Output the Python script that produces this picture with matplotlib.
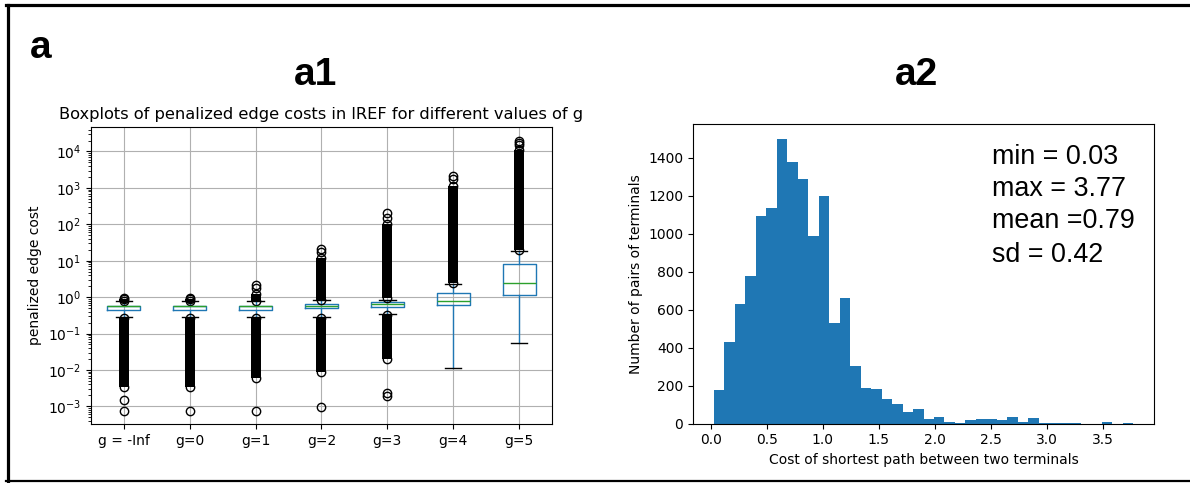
import matplotlib
matplotlib.use("Agg")
import matplotlib.pyplot as plt
from matplotlib.lines import Line2D
from matplotlib.ticker import LogLocator, NullFormatter
import numpy as np

# ---- a1: boxplot summary per g value ----
groups = ["g = -Inf", "g=0", "g=1", "g=2", "g=3", "g=4", "g=5"]
q1 = [0.45, 0.45, 0.45, 0.49, 0.53, 0.62, 1.16]
med = [0.56, 0.56, 0.56, 0.57, 0.63, 0.80, 2.46]
q3 = [0.58, 0.58, 0.58, 0.63, 0.73, 1.31, 8.1]
whis_lo = [0.285, 0.285, 0.285, 0.285, 0.35, 0.0116, 0.054]
whis_hi = [0.76, 0.76, 0.76, 0.81, 0.86, 2.31, 18.7]
# runs of outliers so dense they print as a solid column (lo, hi)
dense_low = [(0.0035, 0.27), (0.0035, 0.27), (0.0062, 0.27), (0.0090, 0.27),
             (0.0195, 0.33), None, None]
dense_high = [(0.80, 0.90), (0.80, 0.90), (0.80, 1.25), (0.86, 12.0),
              (0.92, 100.0), (2.4, 1100.0), (19.5, 11000.0)]
# single outlier circles that stand apart
lone_fliers = [[0.93, 0.00145, 0.00077], [0.93, 0.00077], [1.75, 2.2, 0.00077],
               [17.0, 21.0, 0.00096], [150.0, 210.0, 0.0019, 0.0024],
               [1700.0, 2100.0], [15000.0, 17500.0, 20000.0]]

# ---- a2: histogram of shortest path costs ----
hist_min, hist_max, n_bins = 0.03, 3.77, 40
counts = [175, 432, 629, 780, 1094, 1135, 1502, 1378, 1287, 990,
          1198, 531, 663, 302, 189, 182, 129, 105, 63, 75,
          23, 35, 10, 4, 16, 23, 23, 17, 35, 10,
          28, 3, 3, 3, 3, 0, 0, 7, 0, 1]
stats_lines = ["min = 0.03", "max = 3.77", "mean =0.79", "sd = 0.42"]

W, H = 1190, 483
fig = plt.figure(figsize=(W / 100, H / 100), dpi=100)


def fx(px):
    return px / W


def fy(py):
    return 1 - py / H


# ── left: boxplots ───────────────────────────────
ax1 = fig.add_axes([fx(91), fy(424), (552 - 91) / W, (424 - 127) / H])
positions = np.arange(1, len(groups) + 1)
bstats = []
for i in range(len(groups)):
    ends = []
    if dense_low[i]:
        ends += list(dense_low[i])
    if dense_high[i]:
        ends += list(dense_high[i])
    bstats.append(dict(med=med[i], q1=q1[i], q3=q3[i],
                       whislo=whis_lo[i], whishi=whis_hi[i],
                       fliers=np.array(lone_fliers[i] + ends), label=groups[i]))

ax1.bxp(bstats, positions=positions, widths=0.5,
        boxprops=dict(color="C0"), whiskerprops=dict(color="C0"),
        capprops=dict(color="k"), medianprops=dict(color="C2"),
        flierprops=dict(marker="o", markersize=6, markerfacecolor="none",
                        markeredgecolor="k"))
for i, p in enumerate(positions):
    for run in (dense_low[i], dense_high[i]):
        if run:
            ax1.vlines(p, run[0], run[1], colors="k", linewidth=7.2, zorder=3)

ax1.set_yscale("log")
ax1.yaxis.set_minor_locator(LogLocator(base=10, subs=np.arange(2, 10), numticks=100))
ax1.yaxis.set_minor_formatter(NullFormatter())
ax1.set_xlim(0.5, 7.5)
ax1.grid(True)
ax1.set_axisbelow(True)
ax1.set_ylabel("penalized edge cost", fontsize=10)
ax1.set_title("Boxplots of penalized edge costs in lREF for different values of g",
              fontsize=11.7)
ax1.tick_params(labelsize=10)

# ── right: histogram ────────────────────────────
ax2 = fig.add_axes([fx(693), fy(423.5), (1154 - 693) / W, (423.5 - 124.3) / H])
edges = np.linspace(hist_min, hist_max, n_bins + 1)
centers = (edges[:-1] + edges[1:]) / 2
ax2.hist(centers, bins=edges, weights=counts, color="C0")
ax2.set_xlabel("Cost of shortest path between two terminals", fontsize=10)
ax2.set_ylabel("Number of pairs of terminals", fontsize=10)
ax2.tick_params(labelsize=10)

base_y = [164, 196.5, 228.5, 261.5]
for line, by in zip(stats_lines, base_y):
    fig.text(fx(992), fy(by), line, fontsize=19.4, family="Liberation Sans",
             ha="left", va="baseline")

# ── panel labels ────────────────────────────────
fig.text(fx(30), fy(58), "a", fontsize=28, fontweight="bold",
         family="Liberation Sans", ha="left", va="baseline")
fig.text(fx(316), fy(85), "a1", fontsize=28, fontweight="bold",
         family="Liberation Sans", ha="center", va="baseline")
fig.text(fx(916), fy(85), "a2", fontsize=28, fontweight="bold",
         family="Liberation Sans", ha="center", va="baseline")

# ── outer frame (top, left, bottom) ─────────────
fig.add_artist(Line2D([fx(6), fx(W)], [fy(5), fy(5)], color="k", linewidth=2.3))
fig.add_artist(Line2D([fx(7.5), fx(7.5)], [fy(5), fy(481)], color="k", linewidth=2.3))
fig.add_artist(Line2D([fx(6), fx(W)], [fy(481), fy(481)], color="k", linewidth=1.6))

fig.savefig("out.png", dpi=100)
plt.close(fig)
